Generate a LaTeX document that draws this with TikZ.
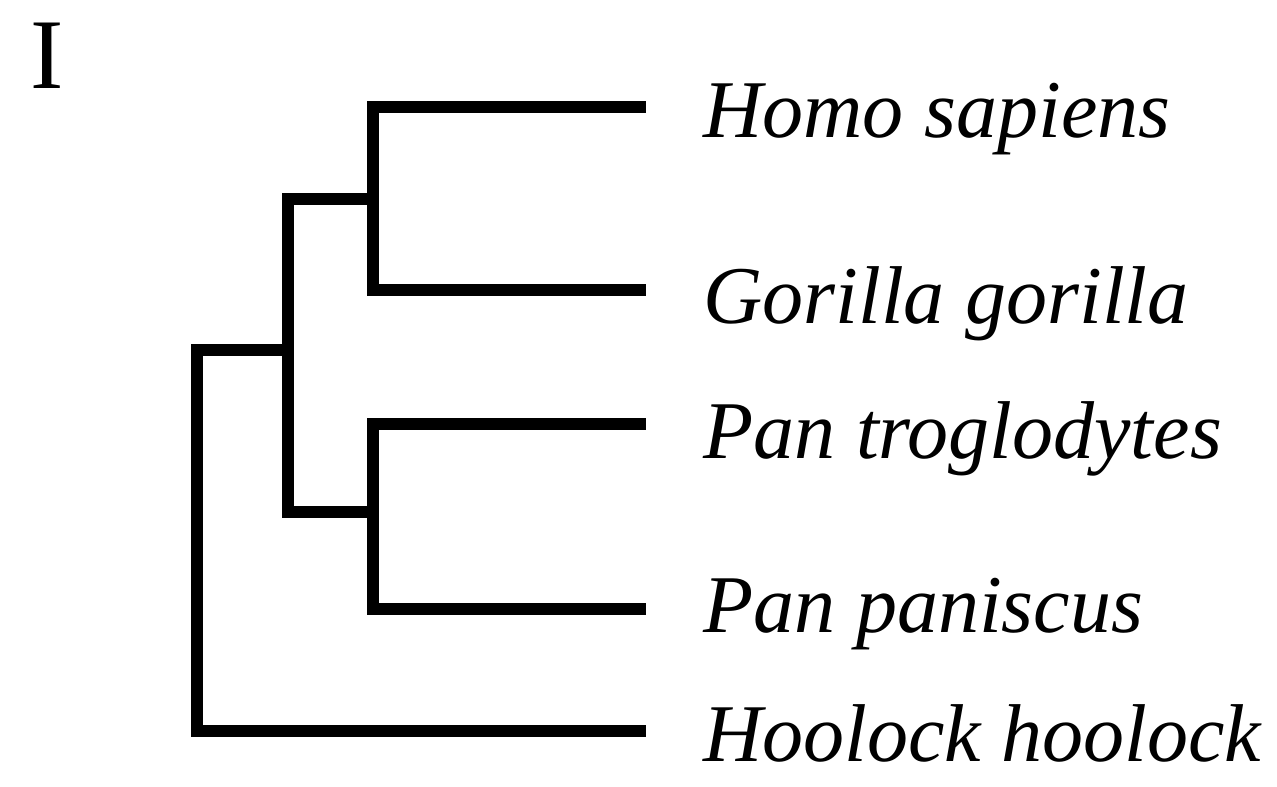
\documentclass[tikz,border=0pt]{standalone}
\usepackage{fontspec}
\setmainfont{Liberation Serif}
\usepackage{tikz}
\tikzset{
  taxon_font/.style = {font=\fontsize{41}{49}\selectfont\itshape},
  panel_font/.style = {font=\fontsize{50}{60}\selectfont}
}
\tikzset{
  taxon/.style = {taxon_font, anchor=base west, inner sep=0},
  panel/.style = {panel_font, anchor=base west, inner sep=0},
  branch/.style = {line width=5.75pt, line cap=butt, line join=miter}
}
\usetikzlibrary{positioning, calc}

\begin{document}
\begin{tikzpicture}[x=0.5pt, y=-0.5pt]{
        \useasboundingbox (0,0) rectangle (1277,786);

        % Panel
        \node[panel] at (30,89) (panel_i) {I};

        % Tips
        \coordinate (homo_tip) at (646,107);
        \coordinate (gorilla_tip) at (646,290);
        \coordinate (trog_tip) at (646,424);
        \coordinate (panis_tip) at (646,609);
        \coordinate (hoolock_tip) at (646,731);

        % Inner nodes
        \coordinate (homo_gorilla) at (373,199);
        \coordinate (pan) at (373,512);
        \coordinate (hominini) at (288,350);
        \coordinate (root) at (197,540);

        % Taxa
        \node[taxon] at (703,138) (homo) {Homo sapiens};
        \node[taxon] at (703,323) (gorilla) {Gorilla gorilla};
        \node[taxon] at (703,458) (trog) {Pan troglodytes};
        \node[taxon] at (703,632) (panis) {Pan paniscus};
        \node[taxon] at (703,761) (hoolock) {Hoolock hoolock};

        % Branches
        \draw[branch] (homo_gorilla) |- (homo_tip);
        \draw[branch] (homo_gorilla) |- (gorilla_tip);
        \draw[branch] (pan) |- (trog_tip);
        \draw[branch] (pan) |- (panis_tip);
        \draw[branch] (hominini) |- (homo_gorilla);
        \draw[branch] (hominini) |- (pan);
        \draw[branch] (root) |- (hominini);
        \draw[branch] (root) |- (hoolock_tip);
        }
\end{tikzpicture}
\end{document}
